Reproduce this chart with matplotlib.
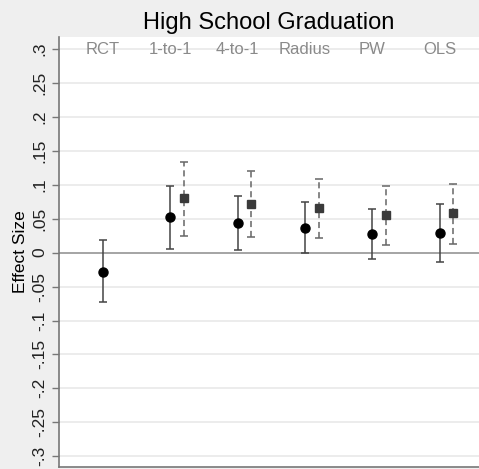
import matplotlib
matplotlib.use("Agg")
import matplotlib.pyplot as plt
import numpy as np

plt.rcParams['font.family'] = ['Liberation Sans', 'DejaVu Sans']

# Estimator labels across the top
methods = ["RCT", "1-to-1", "4-to-1", "Radius", "PW", "OLS"]

# Point estimates and 95% CIs (circles, solid bars)
est_a = [-0.028, 0.052, 0.044, 0.037, 0.027, 0.029]
lo_a = [-0.073, 0.005, 0.004, -0.001, -0.009, -0.014]
hi_a = [0.019, 0.098, 0.084, 0.075, 0.065, 0.072]

# Second specification (squares, dashed bars); no RCT counterpart
est_b = [0.080, 0.072, 0.066, 0.055, 0.058]
lo_b = [0.025, 0.023, 0.022, 0.012, 0.013]
hi_b = [0.133, 0.120, 0.109, 0.099, 0.101]

yticks = [0.3, 0.25, 0.2, 0.15, 0.1, 0.05, 0, -0.05, -0.1, -0.15, -0.2, -0.25, -0.3]
ytick_labels = [".3", ".25", ".2", ".15", ".1", ".05", "0", "-.05", "-.1", "-.15", "-.2", "-.25", "-.3"]

fig = plt.figure(figsize=(4.79, 4.69), dpi=100)
fig.patch.set_facecolor("#efefef")
ax = fig.add_axes([59 / 479, 2 / 469, 420 / 479, 430 / 469])
ax.set_facecolor("white")

xa = np.arange(1, len(methods) + 1)
xb = xa[1:] + 0.2

ea = np.array(est_a)
eb = np.array(est_b)

for y in yticks:
    if y != 0:
        ax.axhline(y, color="#ebebeb", lw=1.3, zorder=0)
ax.axhline(0, color="#8c8c8c", lw=1.1, zorder=1)

ax.errorbar(xa, ea, yerr=[ea - np.array(lo_a), np.array(hi_a) - ea],
            fmt="o", color="black", ms=6.5, ecolor="#444444", elinewidth=1.1,
            capsize=3.2, capthick=1.1, zorder=3)
eb_art = ax.errorbar(xb, eb, yerr=[eb - np.array(lo_b), np.array(hi_b) - eb],
                     fmt="s", color="#3a3a3a", ms=5.8, ecolor="#666666", elinewidth=1.1,
                     capsize=3.2, capthick=1.1, zorder=3)
for lc in eb_art[2]:
    lc.set_linestyle((0, (4, 2.5)))

for x, name in zip(xa, methods):
    ax.text(x, 0.3, name, ha="center", va="center", color="#8a8a8a", fontsize=12)

ax.set_xlim(0.35, 6.58)
ax.set_ylim(-0.316, 0.318)
ax.set_xticks([])
ax.set_yticks(yticks)
ax.set_yticklabels(ytick_labels, rotation=90, va="center", fontsize=12.5, color="#222222")
ax.tick_params(axis="y", length=5, width=1, color="#777777", pad=3.5)
ax.set_ylabel("Effect Size", fontsize=12.5, labelpad=3)

for s in ["top", "right"]:
    ax.spines[s].set_visible(False)
for s in ["left", "bottom"]:
    ax.spines[s].set_color("#777777")
    ax.spines[s].set_linewidth(1.2)

ax.set_title("High School Graduation", fontsize=17, pad=5.5)

fig.savefig("out.png", dpi=100, facecolor=fig.get_facecolor())
